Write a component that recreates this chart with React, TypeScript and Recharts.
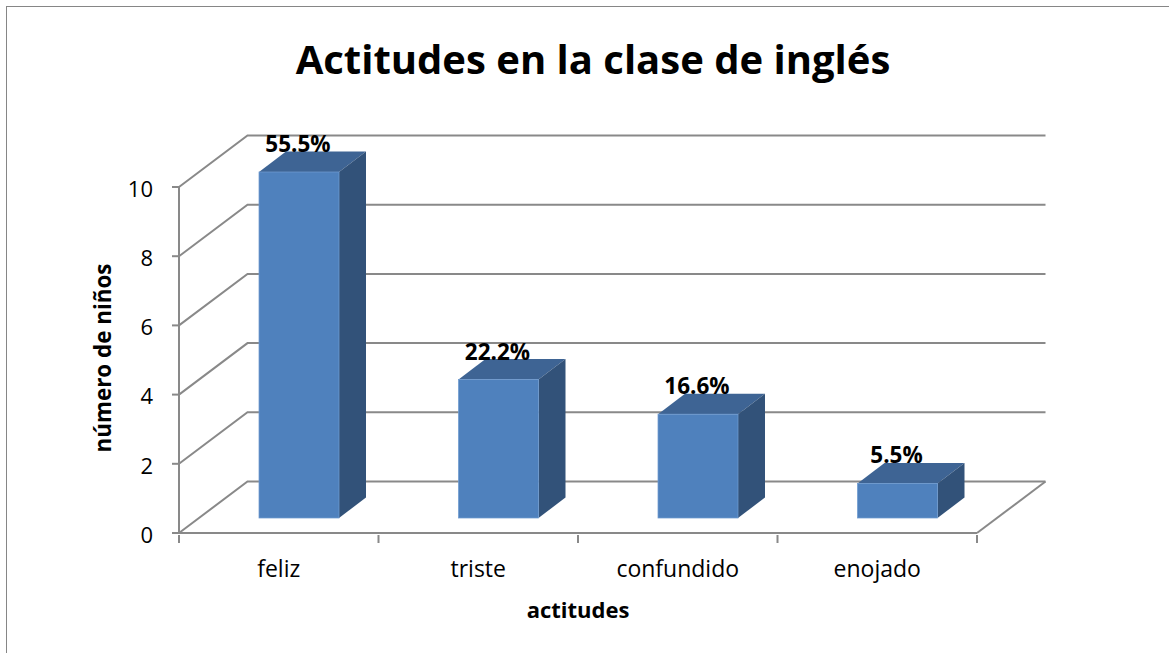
import React from "react";
import { BarChart, Bar, XAxis, YAxis, CartesianGrid, LabelList } from "recharts";

const categories = ["feliz", "triste", "confundido", "enojado"];
const counts = [10, 4, 3, 1];
const shares = ["55.5%", "22.2%", "16.6%", "5.5%"];
const yTicks = [0, 2, 4, 6, 8, 10];

const data = categories.map((name, i) => ({ name, count: counts[i], share: shares[i] }));

const FONT = "'Open Sans', sans-serif";
const GRID = "#898989";
const BAND = 199.5;
// fake 3D: wall depth, bar depth and how far bars sit off the front edge
const WALL_X = 68.5;
const WALL_Y = 51.5;
const BAR_X = 27;
const BAR_Y = 20.5;
const SHIFT_X = 20;
const SHIFT_Y = 15;

function Box3D({ x, y, width, height }: any) {
  const l = x + SHIFT_X;
  const r = l + width;
  const t = y - SHIFT_Y;
  const b = t + height;
  return (
    <g>
      <polygon points={`${l},${t} ${r},${t} ${r + BAR_X},${t - BAR_Y} ${l + BAR_X},${t - BAR_Y}`} fill="#3e6494" />
      <polygon points={`${r},${t} ${r + BAR_X},${t - BAR_Y} ${r + BAR_X},${b - BAR_Y} ${r},${b}`} fill="#325279" />
      <rect x={l} y={t} width={width} height={height} fill="#4f81bd" stroke="#6f9bd0" strokeWidth={0.75} />
    </g>
  );
}

function GridLine({ x1, y1, x2 }: any) {
  const back = y1 - WALL_Y;
  return (
    <g>
      <polyline
        points={`${x1},${y1} ${x1 + WALL_X},${back} ${x2 + WALL_X},${back}`}
        fill="none"
        stroke={GRID}
        strokeWidth={2}
      />
      {y1 > 500 ? <line x1={x2} y1={y1} x2={x2 + WALL_X} y2={back} stroke={GRID} strokeWidth={2} /> : null}
    </g>
  );
}

function CategoryTick({ x, y, payload, index }: any) {
  const left = x - BAND / 2;
  const last = index === categories.length - 1;
  return (
    <g>
      <line x1={left} y1={y} x2={left} y2={y + 8} stroke={GRID} strokeWidth={2} />
      {last ? <line x1={left + BAND} y1={y} x2={left + BAND} y2={y + 8} stroke={GRID} strokeWidth={2} /> : null}
      <text x={x} y={y + 42} textAnchor="middle" fontFamily={FONT} fontSize={23} fill="#000">
        {payload.value}
      </text>
    </g>
  );
}

function ShareLabel({ x, y, width, value }: any) {
  return (
    <text
      x={x + width / 2 + SHIFT_X - 1}
      y={y - 35}
      textAnchor="middle"
      fontFamily={FONT}
      fontWeight={700}
      fontSize={22.5}
      fill="#000"
    >
      {value}
    </text>
  );
}

export default function App() {
  return (
    <div style={{ position: "absolute", left: 0, top: 0, width: 1169, height: 653, background: "#fff", overflow: "hidden" }}>
      <div
        style={{
          position: "absolute",
          left: 6,
          top: 6,
          width: 1163,
          height: 647,
          borderTop: "1.5px solid #868686",
          borderLeft: "1.5px solid #868686",
          boxSizing: "border-box",
        }}
      />
      <div
        style={{
          position: "absolute",
          left: 0,
          width: 1186,
          top: 33,
          textAlign: "center",
          fontFamily: FONT,
          fontWeight: 700,
          fontSize: 40,
          lineHeight: "52px",
          color: "#000",
        }}
      >
        Actitudes en la clase de inglés
      </div>
      <BarChart
        width={1169}
        height={653}
        data={data}
        margin={{ top: 187, right: 192, bottom: 60, left: 119 }}
        style={{ position: "absolute", left: 0, top: 0 }}
      >
        <CartesianGrid vertical={false} horizontal={(p: any) => <GridLine key={p.index} {...p} />} />
        <XAxis
          dataKey="name"
          height={60}
          interval={0}
          axisLine={{ stroke: GRID, strokeWidth: 2 }}
          tickLine={false}
          tickSize={0}
          tick={<CategoryTick />}
          label={{
            content: () => (
              <text x={578} y={618} textAnchor="middle" fontFamily={FONT} fontWeight={700} fontSize={22} fill="#000">
                actitudes
              </text>
            ),
          }}
        />
        <YAxis
          width={60}
          domain={[0, 10]}
          ticks={yTicks}
          interval={0}
          axisLine={{ stroke: GRID, strokeWidth: 2 }}
          tickLine={{ stroke: GRID, strokeWidth: 2 }}
          tickSize={7}
          tickMargin={19}
          tick={{ fontFamily: FONT, fontSize: 22, fill: "#000", dy: 2 }}
          label={{
            content: () => (
              <text
                x={111}
                y={358}
                transform="rotate(-90 111 358)"
                textAnchor="middle"
                fontFamily={FONT}
                fontWeight={700}
                fontSize={22.4}
                fill="#000"
              >
                número de niños
              </text>
            ),
          }}
        />
        <Bar dataKey="count" barSize={80} isAnimationActive={false} shape={<Box3D />}>
          <LabelList dataKey="share" content={<ShareLabel />} />
        </Bar>
      </BarChart>
    </div>
  );
}
